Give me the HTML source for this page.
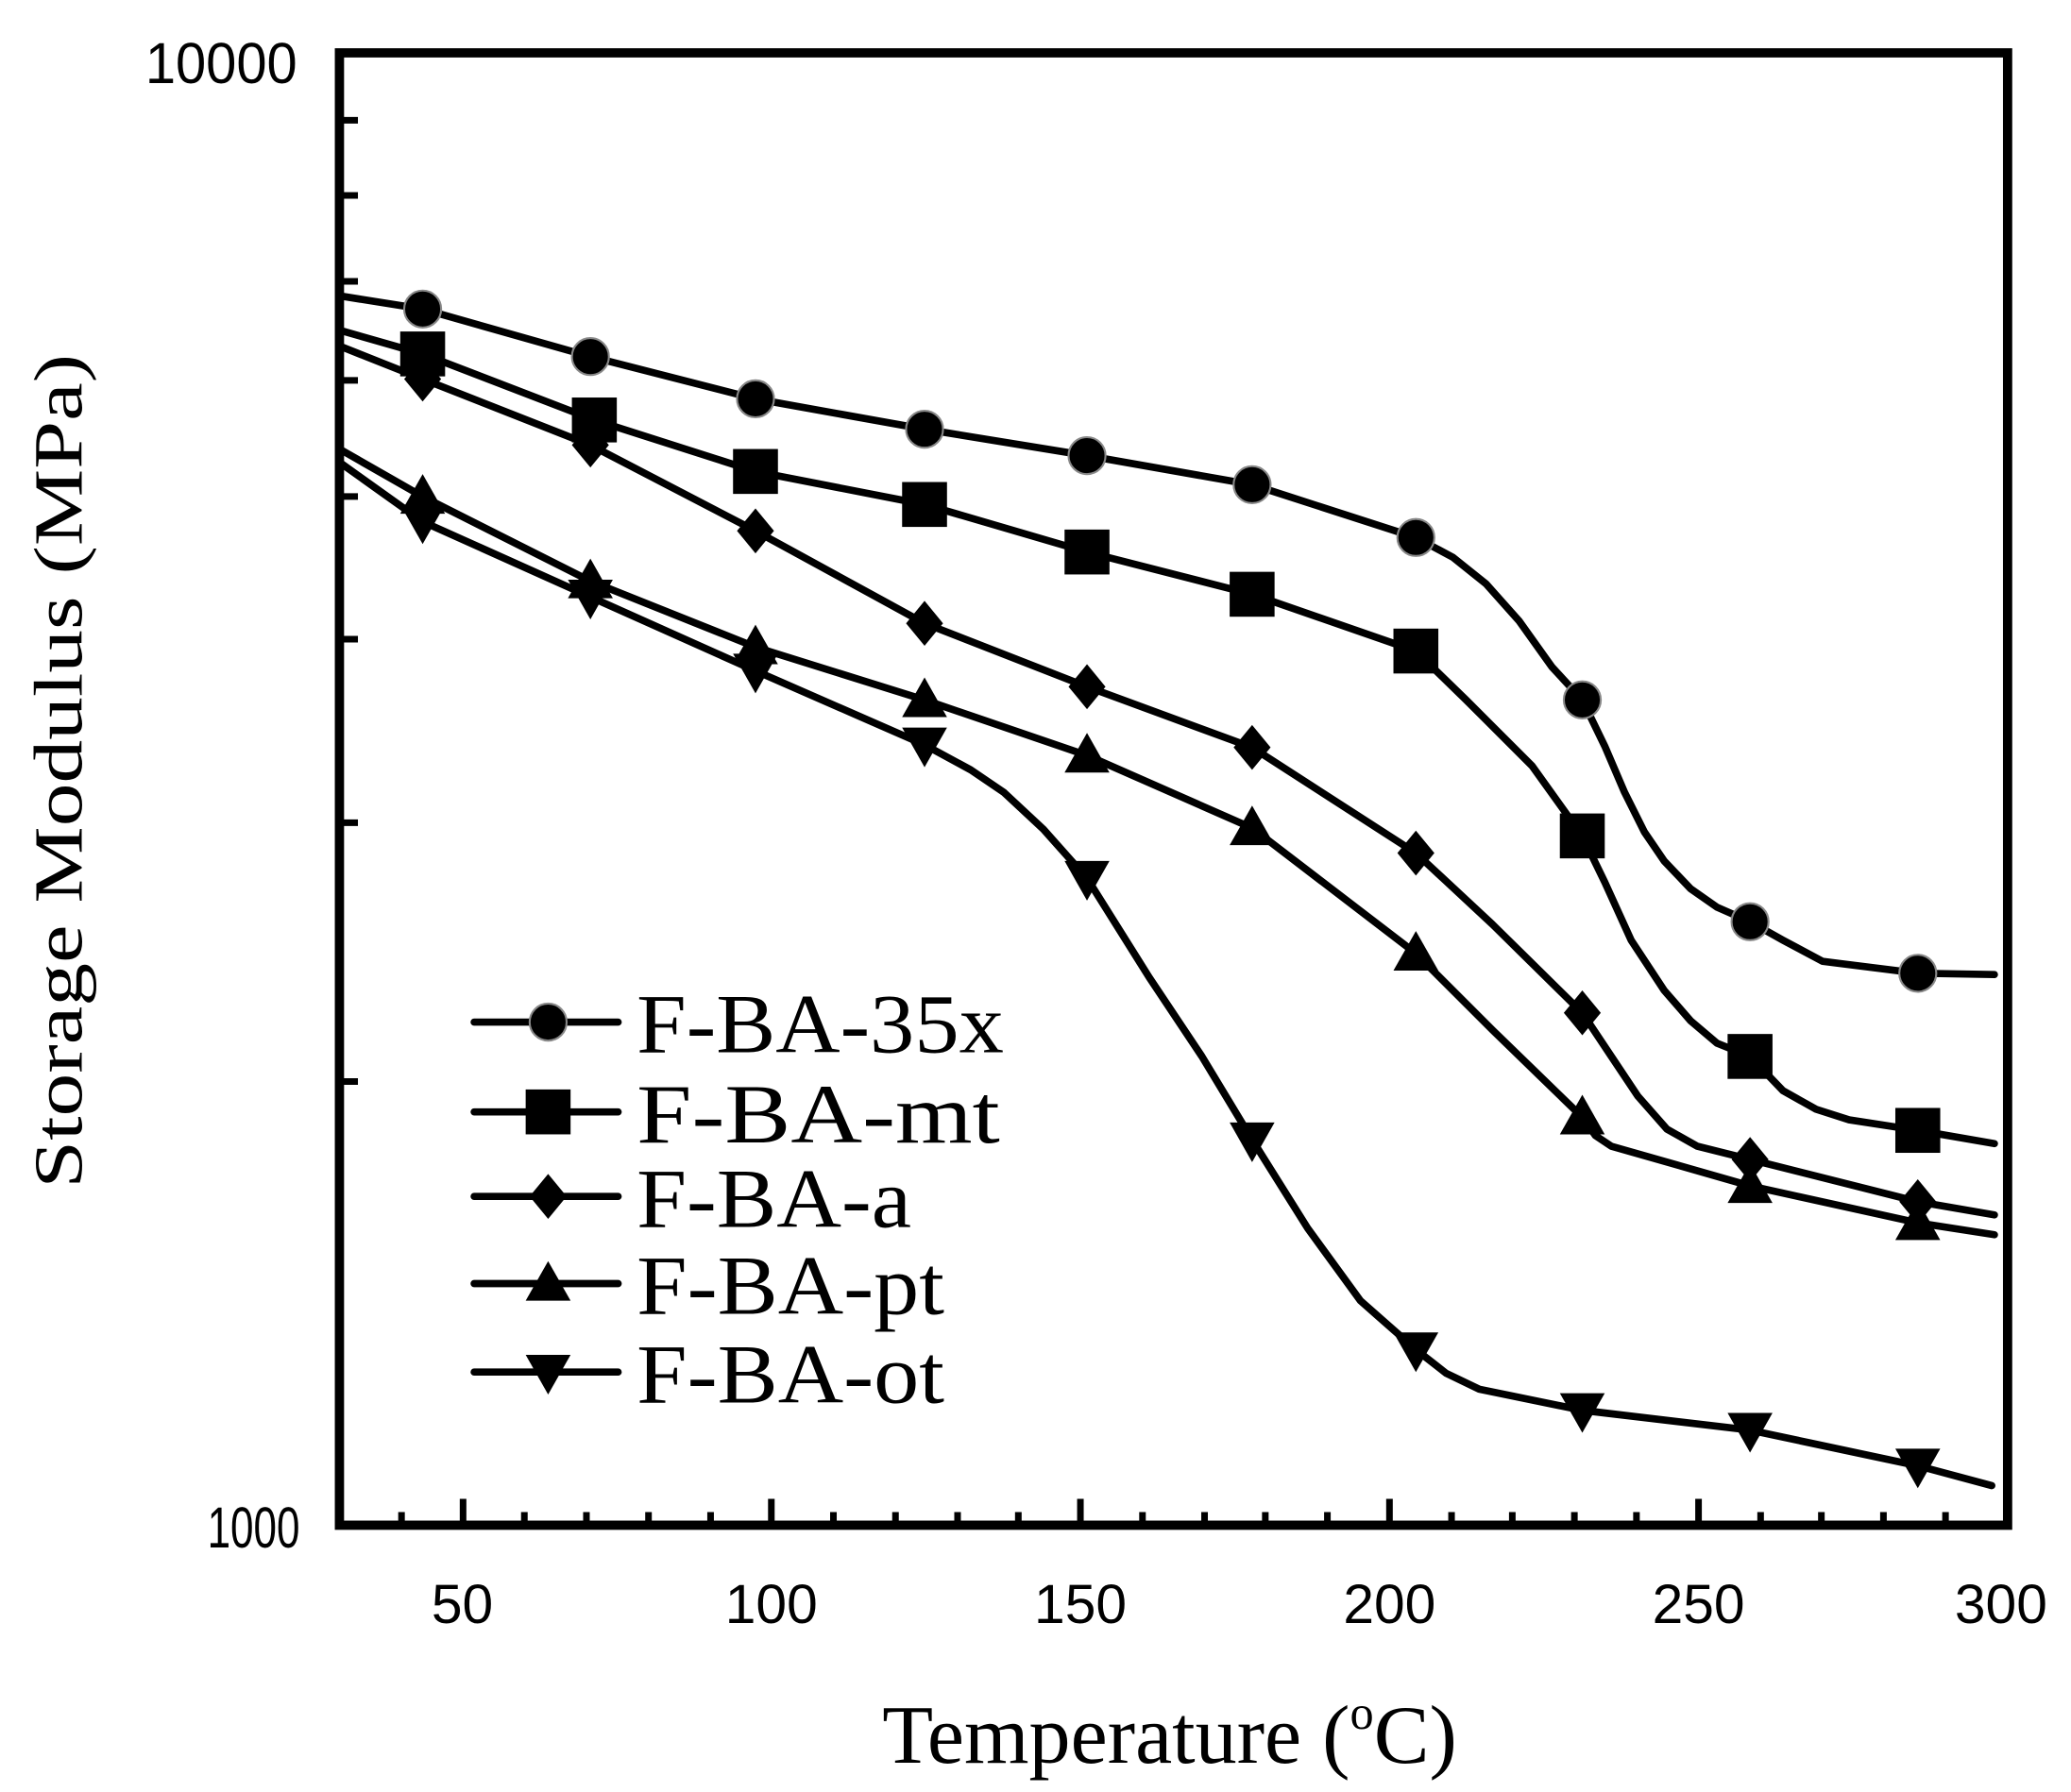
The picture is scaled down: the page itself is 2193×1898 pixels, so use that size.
<!DOCTYPE html>
<html><head><meta charset="utf-8"><style>html,body{margin:0;padding:0;background:#fff}svg{display:block}</style></head>
<body>
<svg width="2193" height="1898" viewBox="0 0 1568 1357" xmlns="http://www.w3.org/2000/svg">
<rect width="1568" height="1357" fill="#fff"/>
<g stroke="#000" stroke-width="5" fill="none">
<path d="M257 819h14M257 623h14M257 484h14M257 376h14M257 288h14M257 213h14M257 148h14M257 91h14"/>
<path d="M304 1155v-10M350.6 1155v-20M397 1155v-10M444 1155v-10M491 1155v-10M538 1155v-10M584 1155v-20M631 1155v-10M678 1155v-10M725 1155v-10M771 1155v-10M818 1155v-20M865 1155v-10M912 1155v-10M958 1155v-10M1005 1155v-10M1052 1155v-20M1099 1155v-10M1145 1155v-10M1192 1155v-10M1239 1155v-10M1286 1155v-20M1333 1155v-10M1379 1155v-10M1426 1155v-10M1473 1155v-10"/>
<rect x="257" y="40" width="1263" height="1115" stroke-width="7"/>
</g>
<g font-family="Liberation Sans, sans-serif" font-size="44" fill="#000">
<text x="225" y="63" text-anchor="end" textLength="115" lengthAdjust="spacingAndGlyphs">10000</text>
<text x="227" y="1172" text-anchor="end" textLength="70" lengthAdjust="spacingAndGlyphs">1000</text>
<g text-anchor="middle" font-size="42">
<text x="350" y="1229">50</text><text x="584" y="1229">100</text><text x="818" y="1229">150</text><text x="1052" y="1229">200</text><text x="1286" y="1229">250</text><text x="1515" y="1229">300</text>
</g>
</g>
<g font-family="Liberation Serif, serif" fill="#000">
<text transform="translate(62,584) rotate(-90)" text-anchor="middle" font-size="52" textLength="632" lengthAdjust="spacingAndGlyphs">Storage Modulus (MPa)</text>
<text x="668" y="1335" font-size="63">Temperature (<tspan font-size="36" dy="-26">o</tspan><tspan dy="26">C)</tspan></text>
</g>
<defs>
<circle id="c" r="14" fill="#000" stroke="#888" stroke-width="1.5"/>
<rect id="s" x="-17" y="-17" width="34" height="34" fill="#000"/>
<path id="d" d="M0 -17L14 0L0 17L-14 0Z" fill="#000"/>
<path id="u" d="M0 -17L17 13H-17Z" fill="#000"/>
<path id="v" d="M0 17L17 -13H-17Z" fill="#000"/>
</defs>
<g stroke="#000" stroke-width="5.5" fill="none" stroke-linejoin="round" stroke-linecap="round">
<polyline points="257,224 320,234 447,270 572,302 700,325 823,345 948,367 1072,407 1100,422 1125,442 1150,470 1175,505 1198,530 1215,565 1230,600 1245,630 1260,652 1280,673 1300,687 1325,698 1350,712 1380,728 1452,737 1510,738"/>
<polyline points="257,250 320,268 450,318 572,357 700,382 823,418 948,450 1072,493 1110,530 1160,580 1198,633 1215,668 1235,712 1260,750 1280,773 1300,790 1325,800 1350,826 1375,840 1400,848 1452,856 1510,866"/>
<polyline points="257,262 320,287 447,337 572,402 700,472 823,520 948,566 1072,646 1130,700 1198,767 1220,800 1240,830 1262,855 1285,868 1325,878 1452,910 1510,920"/>
<polyline points="257,340 320,376 447,440 572,490 700,530 823,572 948,627 1072,722 1130,780 1198,846 1208,860 1220,868 1325,898 1452,926 1510,935"/>
<polyline points="257,350 320,395 447,452 572,508 700,564 735,583 760,600 790,628 823,665 870,740 910,800 948,863 990,930 1030,985 1072,1022 1095,1040 1120,1052 1198,1068 1325,1083 1452,1110 1508,1125"/>
<path d="M359 774H468M359 842H468M359 906H468M359 972H468M359 1039H468"/>
</g>
<g>
<use href="#c" x="320" y="234"/><use href="#c" x="447" y="270"/><use href="#c" x="572" y="302"/><use href="#c" x="700" y="325"/><use href="#c" x="823" y="345"/><use href="#c" x="948" y="367"/><use href="#c" x="1072" y="407"/><use href="#c" x="1198" y="530"/><use href="#c" x="1325" y="698"/><use href="#c" x="1452" y="737"/>
<use href="#s" x="320" y="268"/><use href="#s" x="450" y="318"/><use href="#s" x="572" y="357"/><use href="#s" x="700" y="382"/><use href="#s" x="823" y="418"/><use href="#s" x="948" y="450"/><use href="#s" x="1072" y="493"/><use href="#s" x="1198" y="633"/><use href="#s" x="1325" y="800"/><use href="#s" x="1452" y="856"/>
<use href="#d" x="320" y="287"/><use href="#d" x="447" y="337"/><use href="#d" x="572" y="402"/><use href="#d" x="700" y="472"/><use href="#d" x="823" y="520"/><use href="#d" x="948" y="566"/><use href="#d" x="1072" y="646"/><use href="#d" x="1198" y="767"/><use href="#d" x="1325" y="878"/><use href="#d" x="1452" y="910"/>
<use href="#u" x="320" y="376"/><use href="#u" x="447" y="440"/><use href="#u" x="572" y="490"/><use href="#u" x="700" y="530"/><use href="#u" x="823" y="572"/><use href="#u" x="948" y="627"/><use href="#u" x="1072" y="722"/><use href="#u" x="1198" y="846"/><use href="#u" x="1325" y="898"/><use href="#u" x="1452" y="926"/>
<use href="#v" x="320" y="395"/><use href="#v" x="447" y="452"/><use href="#v" x="572" y="508"/><use href="#v" x="700" y="564"/><use href="#v" x="823" y="665"/><use href="#v" x="948" y="863"/><use href="#v" x="1072" y="1022"/><use href="#v" x="1198" y="1068"/><use href="#v" x="1325" y="1083"/><use href="#v" x="1452" y="1110"/>
<use href="#c" x="415" y="774"/><use href="#s" x="415" y="842"/><use href="#d" x="415" y="906"/><use href="#u" x="415" y="972"/><use href="#v" x="415" y="1039"/>
</g>
<g font-family="Liberation Serif, serif" font-size="64" fill="#000">
<text x="482" y="797" textLength="278" lengthAdjust="spacingAndGlyphs">F-BA-35x</text>
<text x="482" y="865" textLength="275" lengthAdjust="spacingAndGlyphs">F-BA-mt</text>
<text x="482" y="929" textLength="208" lengthAdjust="spacingAndGlyphs">F-BA-a</text>
<text x="482" y="995" textLength="233" lengthAdjust="spacingAndGlyphs">F-BA-pt</text>
<text x="482" y="1062" textLength="233" lengthAdjust="spacingAndGlyphs">F-BA-ot</text>
</g>
</svg>
</body></html>
